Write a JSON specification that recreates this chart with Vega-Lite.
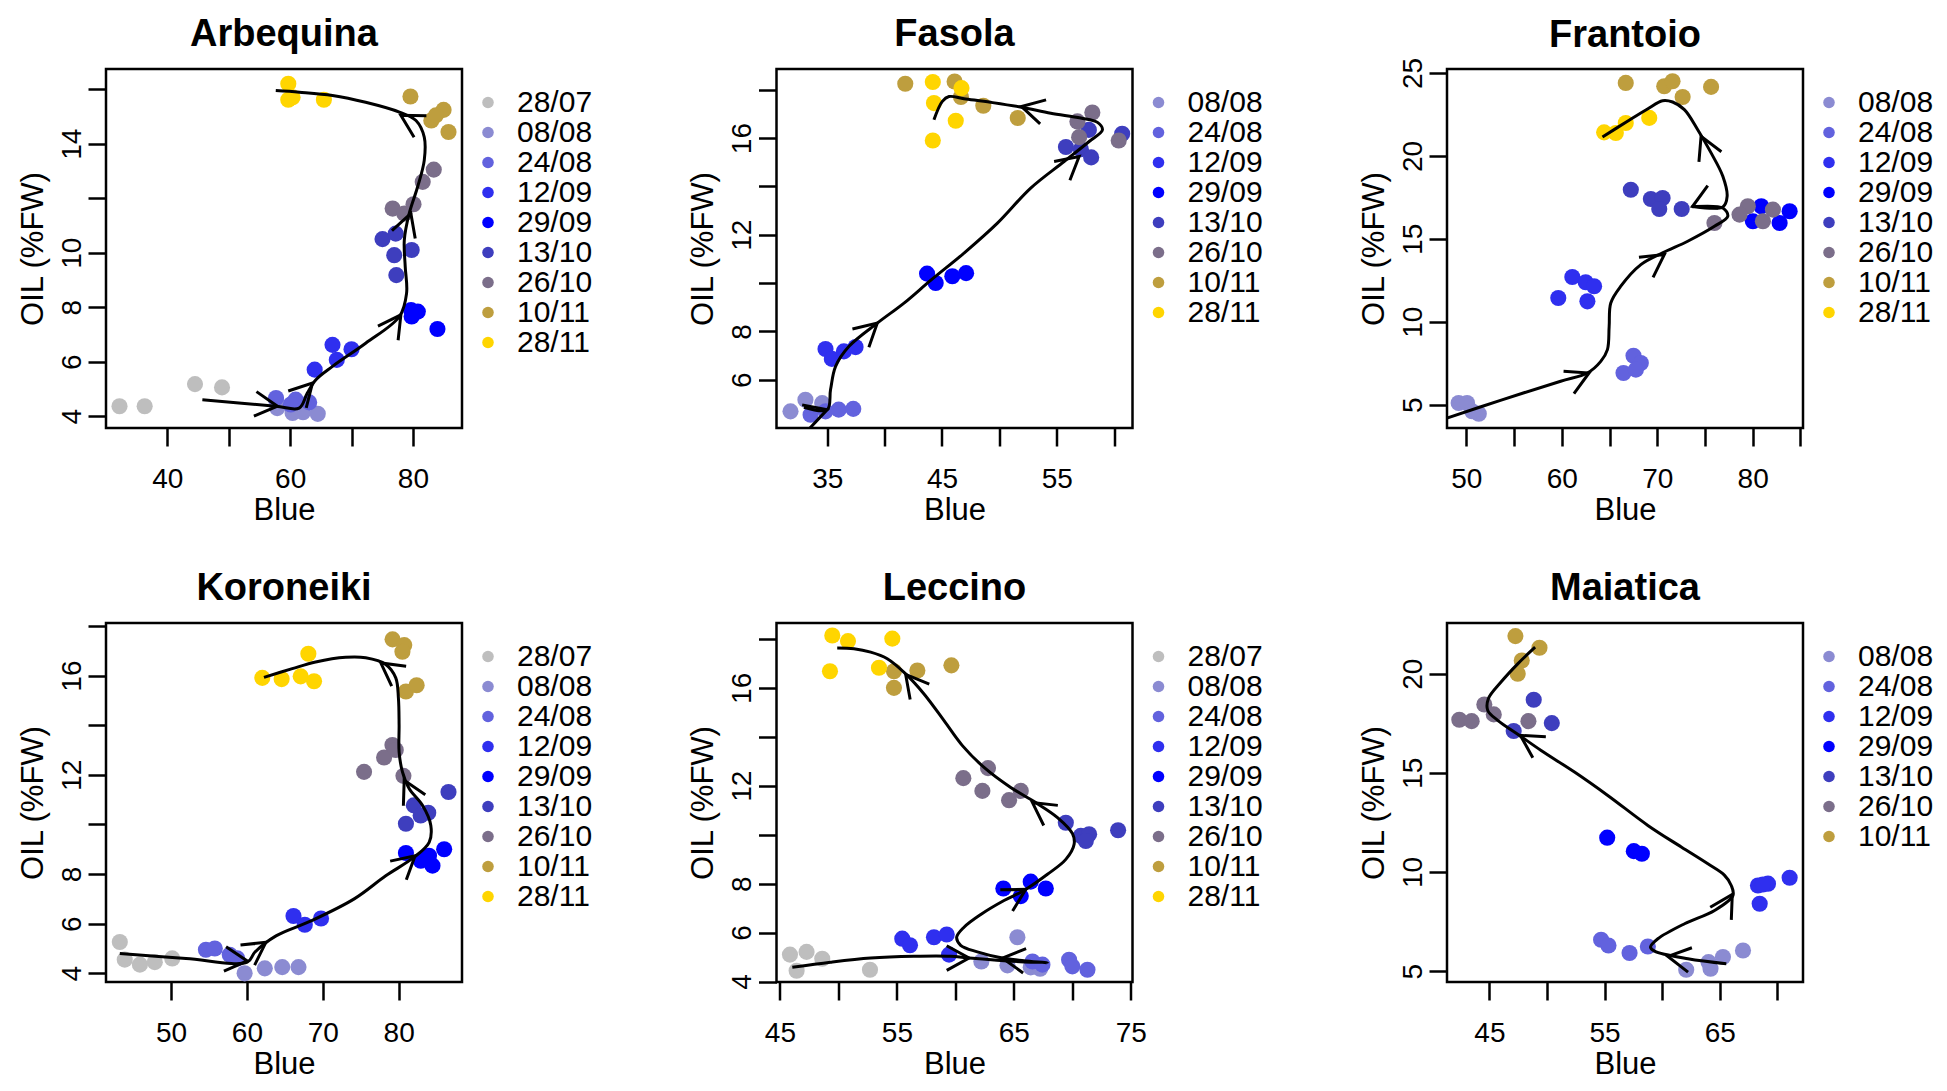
{
  "$schema": "https://vega.github.io/schema/vega-lite/v6.json",
  "padding": {"left": 15, "top": 14, "right": 10, "bottom": 10},
  "background": "white",
  "datasets": {
    "points": [
      {"cv": "Arbequina", "date": "28/07", "blue": 32.2, "oil": 4.37},
      {"cv": "Arbequina", "date": "28/07", "blue": 36.3, "oil": 4.37},
      {"cv": "Arbequina", "date": "28/07", "blue": 44.5, "oil": 5.18},
      {"cv": "Arbequina", "date": "28/07", "blue": 48.9, "oil": 5.06},
      {"cv": "Arbequina", "date": "08/08", "blue": 57.7, "oil": 4.59},
      {"cv": "Arbequina", "date": "08/08", "blue": 60.4, "oil": 4.12},
      {"cv": "Arbequina", "date": "08/08", "blue": 62.1, "oil": 4.15},
      {"cv": "Arbequina", "date": "08/08", "blue": 64.5, "oil": 4.09},
      {"cv": "Arbequina", "date": "08/08", "blue": 57.9, "oil": 4.3},
      {"cv": "Arbequina", "date": "24/08", "blue": 57.7, "oil": 4.67},
      {"cv": "Arbequina", "date": "24/08", "blue": 60.9, "oil": 4.61},
      {"cv": "Arbequina", "date": "24/08", "blue": 63.1, "oil": 4.51},
      {"cv": "Arbequina", "date": "24/08", "blue": 60.1, "oil": 4.43},
      {"cv": "Arbequina", "date": "12/09", "blue": 64.0, "oil": 5.71},
      {"cv": "Arbequina", "date": "12/09", "blue": 66.9, "oil": 6.62},
      {"cv": "Arbequina", "date": "12/09", "blue": 67.6, "oil": 6.07},
      {"cv": "Arbequina", "date": "12/09", "blue": 70.0, "oil": 6.46},
      {"cv": "Arbequina", "date": "29/09", "blue": 79.7, "oil": 7.9},
      {"cv": "Arbequina", "date": "29/09", "blue": 80.8, "oil": 7.84},
      {"cv": "Arbequina", "date": "29/09", "blue": 79.8, "oil": 7.66},
      {"cv": "Arbequina", "date": "29/09", "blue": 84.0, "oil": 7.2},
      {"cv": "Arbequina", "date": "13/10", "blue": 75.05, "oil": 10.5},
      {"cv": "Arbequina", "date": "13/10", "blue": 77.2, "oil": 10.7},
      {"cv": "Arbequina", "date": "13/10", "blue": 76.96, "oil": 9.91},
      {"cv": "Arbequina", "date": "13/10", "blue": 79.8, "oil": 10.1},
      {"cv": "Arbequina", "date": "13/10", "blue": 77.3, "oil": 9.18},
      {"cv": "Arbequina", "date": "26/10", "blue": 76.7, "oil": 11.62},
      {"cv": "Arbequina", "date": "26/10", "blue": 78.6, "oil": 11.44},
      {"cv": "Arbequina", "date": "26/10", "blue": 80.1, "oil": 11.78},
      {"cv": "Arbequina", "date": "26/10", "blue": 81.6, "oil": 12.6},
      {"cv": "Arbequina", "date": "26/10", "blue": 83.4, "oil": 13.05},
      {"cv": "Arbequina", "date": "10/11", "blue": 79.6, "oil": 15.73},
      {"cv": "Arbequina", "date": "10/11", "blue": 83.0, "oil": 14.85},
      {"cv": "Arbequina", "date": "10/11", "blue": 85.0, "oil": 15.24},
      {"cv": "Arbequina", "date": "10/11", "blue": 85.8, "oil": 14.43},
      {"cv": "Arbequina", "date": "10/11", "blue": 83.75, "oil": 15.04},
      {"cv": "Arbequina", "date": "28/11", "blue": 59.7, "oil": 16.2},
      {"cv": "Arbequina", "date": "28/11", "blue": 59.7, "oil": 15.61},
      {"cv": "Arbequina", "date": "28/11", "blue": 60.4, "oil": 15.7},
      {"cv": "Arbequina", "date": "28/11", "blue": 65.5, "oil": 15.61},

      {"cv": "Fasola", "date": "08/08", "blue": 31.8, "oil": 4.69},
      {"cv": "Fasola", "date": "08/08", "blue": 33.1, "oil": 5.17},
      {"cv": "Fasola", "date": "08/08", "blue": 34.56, "oil": 5.03},
      {"cv": "Fasola", "date": "24/08", "blue": 33.55, "oil": 4.55},
      {"cv": "Fasola", "date": "24/08", "blue": 34.85, "oil": 4.69},
      {"cv": "Fasola", "date": "24/08", "blue": 36.0, "oil": 4.76},
      {"cv": "Fasola", "date": "24/08", "blue": 37.27, "oil": 4.79},
      {"cv": "Fasola", "date": "12/09", "blue": 34.85, "oil": 7.27},
      {"cv": "Fasola", "date": "12/09", "blue": 35.4, "oil": 6.86},
      {"cv": "Fasola", "date": "12/09", "blue": 36.45, "oil": 7.17},
      {"cv": "Fasola", "date": "12/09", "blue": 37.47, "oil": 7.35},
      {"cv": "Fasola", "date": "29/09", "blue": 43.7, "oil": 10.39},
      {"cv": "Fasola", "date": "29/09", "blue": 44.45, "oil": 10.0},
      {"cv": "Fasola", "date": "29/09", "blue": 45.9, "oil": 10.28},
      {"cv": "Fasola", "date": "29/09", "blue": 47.1, "oil": 10.41},
      {"cv": "Fasola", "date": "13/10", "blue": 55.8, "oil": 15.63},
      {"cv": "Fasola", "date": "13/10", "blue": 57.1, "oil": 15.54},
      {"cv": "Fasola", "date": "13/10", "blue": 58.0, "oil": 15.2},
      {"cv": "Fasola", "date": "13/10", "blue": 57.8, "oil": 16.34},
      {"cv": "Fasola", "date": "13/10", "blue": 60.7, "oil": 16.18},
      {"cv": "Fasola", "date": "26/10", "blue": 56.8, "oil": 16.69},
      {"cv": "Fasola", "date": "26/10", "blue": 58.1, "oil": 17.06},
      {"cv": "Fasola", "date": "26/10", "blue": 56.95, "oil": 16.04},
      {"cv": "Fasola", "date": "26/10", "blue": 60.4, "oil": 15.9},
      {"cv": "Fasola", "date": "10/11", "blue": 41.8, "oil": 18.25},
      {"cv": "Fasola", "date": "10/11", "blue": 46.1, "oil": 18.34},
      {"cv": "Fasola", "date": "10/11", "blue": 46.65, "oil": 17.7},
      {"cv": "Fasola", "date": "10/11", "blue": 48.6, "oil": 17.34},
      {"cv": "Fasola", "date": "10/11", "blue": 51.6, "oil": 16.83},
      {"cv": "Fasola", "date": "28/11", "blue": 44.2, "oil": 18.32},
      {"cv": "Fasola", "date": "28/11", "blue": 46.7, "oil": 18.07},
      {"cv": "Fasola", "date": "28/11", "blue": 44.3, "oil": 17.45},
      {"cv": "Fasola", "date": "28/11", "blue": 46.2, "oil": 16.72},
      {"cv": "Fasola", "date": "28/11", "blue": 44.2, "oil": 15.9},

      {"cv": "Frantoio", "date": "08/08", "blue": 49.19, "oil": 5.1},
      {"cv": "Frantoio", "date": "08/08", "blue": 50.07, "oil": 5.1},
      {"cv": "Frantoio", "date": "08/08", "blue": 51.3, "oil": 4.45},
      {"cv": "Frantoio", "date": "08/08", "blue": 50.6, "oil": 4.6},
      {"cv": "Frantoio", "date": "24/08", "blue": 66.46, "oil": 6.91},
      {"cv": "Frantoio", "date": "24/08", "blue": 67.51, "oil": 7.95},
      {"cv": "Frantoio", "date": "24/08", "blue": 68.28, "oil": 7.51},
      {"cv": "Frantoio", "date": "24/08", "blue": 67.76, "oil": 7.11},
      {"cv": "Frantoio", "date": "12/09", "blue": 59.63, "oil": 11.43},
      {"cv": "Frantoio", "date": "12/09", "blue": 61.1, "oil": 12.7},
      {"cv": "Frantoio", "date": "12/09", "blue": 62.5, "oil": 12.38},
      {"cv": "Frantoio", "date": "12/09", "blue": 63.38, "oil": 12.14},
      {"cv": "Frantoio", "date": "12/09", "blue": 62.68, "oil": 11.23},
      {"cv": "Frantoio", "date": "29/09", "blue": 80.9, "oil": 16.96},
      {"cv": "Frantoio", "date": "29/09", "blue": 83.87, "oil": 16.66},
      {"cv": "Frantoio", "date": "29/09", "blue": 80.02, "oil": 16.06},
      {"cv": "Frantoio", "date": "29/09", "blue": 82.82, "oil": 15.95},
      {"cv": "Frantoio", "date": "13/10", "blue": 67.23, "oil": 17.96},
      {"cv": "Frantoio", "date": "13/10", "blue": 69.33, "oil": 17.4},
      {"cv": "Frantoio", "date": "13/10", "blue": 70.56, "oil": 17.46},
      {"cv": "Frantoio", "date": "13/10", "blue": 70.21, "oil": 16.8},
      {"cv": "Frantoio", "date": "13/10", "blue": 72.56, "oil": 16.8},
      {"cv": "Frantoio", "date": "26/10", "blue": 75.99, "oil": 15.95},
      {"cv": "Frantoio", "date": "26/10", "blue": 79.49, "oil": 16.96},
      {"cv": "Frantoio", "date": "26/10", "blue": 82.12, "oil": 16.76},
      {"cv": "Frantoio", "date": "26/10", "blue": 81.07, "oil": 16.06},
      {"cv": "Frantoio", "date": "26/10", "blue": 78.62, "oil": 16.46},
      {"cv": "Frantoio", "date": "10/11", "blue": 66.7, "oil": 24.4},
      {"cv": "Frantoio", "date": "10/11", "blue": 70.73, "oil": 24.2},
      {"cv": "Frantoio", "date": "10/11", "blue": 71.6, "oil": 24.5},
      {"cv": "Frantoio", "date": "10/11", "blue": 72.66, "oil": 23.55},
      {"cv": "Frantoio", "date": "10/11", "blue": 75.64, "oil": 24.16},
      {"cv": "Frantoio", "date": "28/11", "blue": 64.43, "oil": 21.42},
      {"cv": "Frantoio", "date": "28/11", "blue": 65.66, "oil": 21.38},
      {"cv": "Frantoio", "date": "28/11", "blue": 66.7, "oil": 21.98},
      {"cv": "Frantoio", "date": "28/11", "blue": 69.16, "oil": 22.29},

      {"cv": "Koroneiki", "date": "28/07", "blue": 43.25, "oil": 5.26},
      {"cv": "Koroneiki", "date": "28/07", "blue": 43.9, "oil": 4.55},
      {"cv": "Koroneiki", "date": "28/07", "blue": 45.9, "oil": 4.35},
      {"cv": "Koroneiki", "date": "28/07", "blue": 47.86, "oil": 4.45},
      {"cv": "Koroneiki", "date": "28/07", "blue": 50.16, "oil": 4.6},
      {"cv": "Koroneiki", "date": "08/08", "blue": 59.7, "oil": 4.0},
      {"cv": "Koroneiki", "date": "08/08", "blue": 62.36, "oil": 4.2},
      {"cv": "Koroneiki", "date": "08/08", "blue": 64.66, "oil": 4.25},
      {"cv": "Koroneiki", "date": "08/08", "blue": 66.8, "oil": 4.25},
      {"cv": "Koroneiki", "date": "24/08", "blue": 54.6, "oil": 4.95},
      {"cv": "Koroneiki", "date": "24/08", "blue": 55.77, "oil": 5.0},
      {"cv": "Koroneiki", "date": "24/08", "blue": 57.74, "oil": 4.75},
      {"cv": "Koroneiki", "date": "24/08", "blue": 58.73, "oil": 4.6},
      {"cv": "Koroneiki", "date": "12/09", "blue": 66.14, "oil": 6.31},
      {"cv": "Koroneiki", "date": "12/09", "blue": 67.63, "oil": 5.96},
      {"cv": "Koroneiki", "date": "12/09", "blue": 69.77, "oil": 6.21},
      {"cv": "Koroneiki", "date": "29/09", "blue": 80.96, "oil": 8.85},
      {"cv": "Koroneiki", "date": "29/09", "blue": 82.92, "oil": 8.54},
      {"cv": "Koroneiki", "date": "29/09", "blue": 84.46, "oil": 8.34},
      {"cv": "Koroneiki", "date": "29/09", "blue": 84.0, "oil": 8.74},
      {"cv": "Koroneiki", "date": "29/09", "blue": 86.0, "oil": 9.0},
      {"cv": "Koroneiki", "date": "13/10", "blue": 80.96, "oil": 10.03},
      {"cv": "Koroneiki", "date": "13/10", "blue": 82.0, "oil": 10.77},
      {"cv": "Koroneiki", "date": "13/10", "blue": 83.9, "oil": 10.47},
      {"cv": "Koroneiki", "date": "13/10", "blue": 86.57, "oil": 11.31},
      {"cv": "Koroneiki", "date": "13/10", "blue": 82.9, "oil": 10.36},
      {"cv": "Koroneiki", "date": "26/10", "blue": 75.44, "oil": 12.12},
      {"cv": "Koroneiki", "date": "26/10", "blue": 78.08, "oil": 12.7},
      {"cv": "Koroneiki", "date": "26/10", "blue": 79.18, "oil": 13.2},
      {"cv": "Koroneiki", "date": "26/10", "blue": 79.62, "oil": 13.0},
      {"cv": "Koroneiki", "date": "26/10", "blue": 80.63, "oil": 11.96},
      {"cv": "Koroneiki", "date": "10/11", "blue": 79.2, "oil": 17.46},
      {"cv": "Koroneiki", "date": "10/11", "blue": 80.74, "oil": 17.23},
      {"cv": "Koroneiki", "date": "10/11", "blue": 80.5, "oil": 16.96},
      {"cv": "Koroneiki", "date": "10/11", "blue": 80.96, "oil": 15.36},
      {"cv": "Koroneiki", "date": "10/11", "blue": 82.37, "oil": 15.61},
      {"cv": "Koroneiki", "date": "28/11", "blue": 62.03, "oil": 15.91},
      {"cv": "Koroneiki", "date": "28/11", "blue": 64.58, "oil": 15.86},
      {"cv": "Koroneiki", "date": "28/11", "blue": 67.09, "oil": 15.97},
      {"cv": "Koroneiki", "date": "28/11", "blue": 68.85, "oil": 15.77},
      {"cv": "Koroneiki", "date": "28/11", "blue": 68.1, "oil": 16.88},

      {"cv": "Leccino", "date": "28/07", "blue": 45.86, "oil": 5.1},
      {"cv": "Leccino", "date": "28/07", "blue": 47.28, "oil": 5.21},
      {"cv": "Leccino", "date": "28/07", "blue": 48.62, "oil": 4.93},
      {"cv": "Leccino", "date": "28/07", "blue": 46.43, "oil": 4.44},
      {"cv": "Leccino", "date": "28/07", "blue": 52.7, "oil": 4.48},
      {"cv": "Leccino", "date": "08/08", "blue": 62.22, "oil": 4.82},
      {"cv": "Leccino", "date": "08/08", "blue": 64.45, "oil": 4.66},
      {"cv": "Leccino", "date": "08/08", "blue": 65.3, "oil": 5.81},
      {"cv": "Leccino", "date": "08/08", "blue": 66.44, "oil": 4.58},
      {"cv": "Leccino", "date": "08/08", "blue": 67.24, "oil": 4.52},
      {"cv": "Leccino", "date": "24/08", "blue": 66.59, "oil": 4.82},
      {"cv": "Leccino", "date": "24/08", "blue": 69.72, "oil": 4.89},
      {"cv": "Leccino", "date": "24/08", "blue": 70.0, "oil": 4.62},
      {"cv": "Leccino", "date": "24/08", "blue": 71.29, "oil": 4.48},
      {"cv": "Leccino", "date": "24/08", "blue": 67.44, "oil": 4.69},
      {"cv": "Leccino", "date": "12/09", "blue": 55.46, "oil": 5.75},
      {"cv": "Leccino", "date": "12/09", "blue": 56.12, "oil": 5.48},
      {"cv": "Leccino", "date": "12/09", "blue": 58.17, "oil": 5.81},
      {"cv": "Leccino", "date": "12/09", "blue": 59.26, "oil": 5.92},
      {"cv": "Leccino", "date": "12/09", "blue": 59.46, "oil": 5.1},
      {"cv": "Leccino", "date": "29/09", "blue": 64.1, "oil": 7.8},
      {"cv": "Leccino", "date": "29/09", "blue": 66.44, "oil": 8.08},
      {"cv": "Leccino", "date": "29/09", "blue": 67.73, "oil": 7.8},
      {"cv": "Leccino", "date": "29/09", "blue": 65.59, "oil": 7.49},
      {"cv": "Leccino", "date": "13/10", "blue": 69.44, "oil": 10.49},
      {"cv": "Leccino", "date": "13/10", "blue": 70.72, "oil": 9.95},
      {"cv": "Leccino", "date": "13/10", "blue": 71.43, "oil": 10.02},
      {"cv": "Leccino", "date": "13/10", "blue": 73.91, "oil": 10.18},
      {"cv": "Leccino", "date": "13/10", "blue": 71.15, "oil": 9.74},
      {"cv": "Leccino", "date": "26/10", "blue": 60.68, "oil": 12.31},
      {"cv": "Leccino", "date": "26/10", "blue": 62.31, "oil": 11.79},
      {"cv": "Leccino", "date": "26/10", "blue": 62.79, "oil": 12.72},
      {"cv": "Leccino", "date": "26/10", "blue": 64.59, "oil": 11.41},
      {"cv": "Leccino", "date": "26/10", "blue": 65.59, "oil": 11.79},
      {"cv": "Leccino", "date": "10/11", "blue": 54.75, "oil": 16.68},
      {"cv": "Leccino", "date": "10/11", "blue": 54.75, "oil": 16.0},
      {"cv": "Leccino", "date": "10/11", "blue": 56.75, "oil": 16.71},
      {"cv": "Leccino", "date": "10/11", "blue": 59.66, "oil": 16.92},
      {"cv": "Leccino", "date": "28/11", "blue": 49.48, "oil": 18.14},
      {"cv": "Leccino", "date": "28/11", "blue": 50.82, "oil": 17.91},
      {"cv": "Leccino", "date": "28/11", "blue": 54.61, "oil": 18.01},
      {"cv": "Leccino", "date": "28/11", "blue": 49.28, "oil": 16.68},
      {"cv": "Leccino", "date": "28/11", "blue": 53.47, "oil": 16.82},

      {"cv": "Maiatica", "date": "08/08", "blue": 62.09, "oil": 5.07},
      {"cv": "Maiatica", "date": "08/08", "blue": 64.03, "oil": 5.45},
      {"cv": "Maiatica", "date": "08/08", "blue": 65.28, "oil": 5.71},
      {"cv": "Maiatica", "date": "08/08", "blue": 67.02, "oil": 6.04},
      {"cv": "Maiatica", "date": "08/08", "blue": 64.2, "oil": 5.12},
      {"cv": "Maiatica", "date": "24/08", "blue": 54.7, "oil": 6.58},
      {"cv": "Maiatica", "date": "24/08", "blue": 55.34, "oil": 6.29},
      {"cv": "Maiatica", "date": "24/08", "blue": 57.17, "oil": 5.91},
      {"cv": "Maiatica", "date": "24/08", "blue": 58.76, "oil": 6.24},
      {"cv": "Maiatica", "date": "12/09", "blue": 68.32, "oil": 9.32},
      {"cv": "Maiatica", "date": "12/09", "blue": 69.19, "oil": 9.41},
      {"cv": "Maiatica", "date": "12/09", "blue": 68.47, "oil": 8.4},
      {"cv": "Maiatica", "date": "12/09", "blue": 71.07, "oil": 9.71},
      {"cv": "Maiatica", "date": "12/09", "blue": 68.75, "oil": 9.37},
      {"cv": "Maiatica", "date": "29/09", "blue": 55.23, "oil": 11.73},
      {"cv": "Maiatica", "date": "29/09", "blue": 57.54, "oil": 11.05},
      {"cv": "Maiatica", "date": "29/09", "blue": 58.24, "oil": 10.92},
      {"cv": "Maiatica", "date": "13/10", "blue": 48.85, "oil": 18.69},
      {"cv": "Maiatica", "date": "13/10", "blue": 50.42, "oil": 17.51},
      {"cv": "Maiatica", "date": "13/10", "blue": 47.11, "oil": 17.11},
      {"cv": "Maiatica", "date": "26/10", "blue": 42.39, "oil": 17.68},
      {"cv": "Maiatica", "date": "26/10", "blue": 43.46, "oil": 17.61},
      {"cv": "Maiatica", "date": "26/10", "blue": 44.56, "oil": 18.45},
      {"cv": "Maiatica", "date": "26/10", "blue": 45.38, "oil": 17.95},
      {"cv": "Maiatica", "date": "26/10", "blue": 48.39, "oil": 17.61},
      {"cv": "Maiatica", "date": "10/11", "blue": 47.26, "oil": 21.9},
      {"cv": "Maiatica", "date": "10/11", "blue": 49.35, "oil": 21.31},
      {"cv": "Maiatica", "date": "10/11", "blue": 47.81, "oil": 20.67},
      {"cv": "Maiatica", "date": "10/11", "blue": 47.46, "oil": 20.0}
    ],
    "path": [
      {"cv": "Arbequina", "step": 1, "blue": 45.7, "oil": 4.61},
      {"cv": "Arbequina", "step": 2, "blue": 57.66, "oil": 4.37},
      {"cv": "Arbequina", "step": 3, "blue": 61.47, "oil": 4.3},
      {"cv": "Arbequina", "step": 4, "blue": 62.8, "oil": 4.85},
      {"cv": "Arbequina", "step": 5, "blue": 64.2, "oil": 5.34},
      {"cv": "Arbequina", "step": 6, "blue": 66.9, "oil": 5.83},
      {"cv": "Arbequina", "step": 7, "blue": 72.3, "oil": 6.68},
      {"cv": "Arbequina", "step": 8, "blue": 77.8, "oil": 7.66},
      {"cv": "Arbequina", "step": 9, "blue": 78.97, "oil": 8.51},
      {"cv": "Arbequina", "step": 10, "blue": 78.75, "oil": 9.49},
      {"cv": "Arbequina", "step": 11, "blue": 78.6, "oil": 10.46},
      {"cv": "Arbequina", "step": 12, "blue": 79.4, "oil": 11.44},
      {"cv": "Arbequina", "step": 13, "blue": 80.76, "oil": 12.41},
      {"cv": "Arbequina", "step": 14, "blue": 81.85, "oil": 13.39},
      {"cv": "Arbequina", "step": 15, "blue": 81.85, "oil": 14.24},
      {"cv": "Arbequina", "step": 16, "blue": 80.5, "oil": 14.85},
      {"cv": "Arbequina", "step": 17, "blue": 77.8, "oil": 15.16},
      {"cv": "Arbequina", "step": 18, "blue": 72.3, "oil": 15.52},
      {"cv": "Arbequina", "step": 19, "blue": 66.9, "oil": 15.77},
      {"cv": "Arbequina", "step": 20, "blue": 61.5, "oil": 15.89},
      {"cv": "Arbequina", "step": 21, "blue": 57.66, "oil": 15.95},

      {"cv": "Fasola", "step": 1, "blue": 32.97, "oil": 4.86},
      {"cv": "Fasola", "step": 2, "blue": 35.0, "oil": 4.76},
      {"cv": "Fasola", "step": 3, "blue": 35.29, "oil": 5.59},
      {"cv": "Fasola", "step": 4, "blue": 35.73, "oil": 6.55},
      {"cv": "Fasola", "step": 5, "blue": 36.9, "oil": 7.38},
      {"cv": "Fasola", "step": 6, "blue": 39.36, "oil": 8.34},
      {"cv": "Fasola", "step": 7, "blue": 41.69, "oil": 9.17},
      {"cv": "Fasola", "step": 8, "blue": 44.01, "oil": 10.11},
      {"cv": "Fasola", "step": 9, "blue": 46.92, "oil": 11.24},
      {"cv": "Fasola", "step": 10, "blue": 49.83, "oil": 12.48},
      {"cv": "Fasola", "step": 11, "blue": 52.73, "oil": 13.93},
      {"cv": "Fasola", "step": 12, "blue": 55.64, "oil": 15.03},
      {"cv": "Fasola", "step": 13, "blue": 57.82, "oil": 15.86},
      {"cv": "Fasola", "step": 14, "blue": 58.98, "oil": 16.34},
      {"cv": "Fasola", "step": 15, "blue": 58.55, "oil": 16.65},
      {"cv": "Fasola", "step": 16, "blue": 57.09, "oil": 16.83},
      {"cv": "Fasola", "step": 17, "blue": 54.48, "oil": 17.03},
      {"cv": "Fasola", "step": 18, "blue": 51.92, "oil": 17.28},
      {"cv": "Fasola", "step": 19, "blue": 49.24, "oil": 17.48},
      {"cv": "Fasola", "step": 20, "blue": 46.92, "oil": 17.63},
      {"cv": "Fasola", "step": 21, "blue": 45.61, "oil": 17.72},
      {"cv": "Fasola", "step": 22, "blue": 45.03, "oil": 17.52},
      {"cv": "Fasola", "step": 23, "blue": 44.3, "oil": 16.76},

      {"cv": "Frantoio", "step": 1, "blue": 48.04, "oil": 4.2},
      {"cv": "Frantoio", "step": 2, "blue": 53.57, "oil": 5.26},
      {"cv": "Frantoio", "step": 3, "blue": 59.88, "oil": 6.41},
      {"cv": "Frantoio", "step": 4, "blue": 62.68, "oil": 6.91},
      {"cv": "Frantoio", "step": 5, "blue": 64.08, "oil": 7.61},
      {"cv": "Frantoio", "step": 6, "blue": 64.78, "oil": 8.32},
      {"cv": "Frantoio", "step": 7, "blue": 64.96, "oil": 9.72},
      {"cv": "Frantoio", "step": 8, "blue": 65.13, "oil": 11.13},
      {"cv": "Frantoio", "step": 9, "blue": 66.18, "oil": 12.14},
      {"cv": "Frantoio", "step": 10, "blue": 68.28, "oil": 13.44},
      {"cv": "Frantoio", "step": 11, "blue": 70.56, "oil": 14.15},
      {"cv": "Frantoio", "step": 12, "blue": 73.19, "oil": 14.85},
      {"cv": "Frantoio", "step": 13, "blue": 75.99, "oil": 15.75},
      {"cv": "Frantoio", "step": 14, "blue": 77.39, "oil": 16.36},
      {"cv": "Frantoio", "step": 15, "blue": 76.87, "oil": 16.86},
      {"cv": "Frantoio", "step": 16, "blue": 73.71, "oil": 16.94},
      {"cv": "Frantoio", "step": 17, "blue": 76.87, "oil": 16.92},
      {"cv": "Frantoio", "step": 18, "blue": 77.32, "oil": 17.56},
      {"cv": "Frantoio", "step": 19, "blue": 76.87, "oil": 18.77},
      {"cv": "Frantoio", "step": 20, "blue": 75.64, "oil": 20.18},
      {"cv": "Frantoio", "step": 21, "blue": 74.24, "oil": 21.58},
      {"cv": "Frantoio", "step": 22, "blue": 72.84, "oil": 22.79},
      {"cv": "Frantoio", "step": 23, "blue": 71.61, "oil": 23.25},
      {"cv": "Frantoio", "step": 24, "blue": 70.56, "oil": 23.33},
      {"cv": "Frantoio", "step": 25, "blue": 68.98, "oil": 22.83},
      {"cv": "Frantoio", "step": 26, "blue": 66.88, "oil": 22.09},
      {"cv": "Frantoio", "step": 27, "blue": 64.26, "oil": 21.14},

      {"cv": "Koroneiki", "step": 1, "blue": 43.25, "oil": 4.8},
      {"cv": "Koroneiki", "step": 2, "blue": 51.98, "oil": 4.6},
      {"cv": "Koroneiki", "step": 3, "blue": 60.05, "oil": 4.45},
      {"cv": "Koroneiki", "step": 4, "blue": 61.04, "oil": 4.85},
      {"cv": "Koroneiki", "step": 5, "blue": 63.84, "oil": 5.51},
      {"cv": "Koroneiki", "step": 6, "blue": 68.45, "oil": 6.11},
      {"cv": "Koroneiki", "step": 7, "blue": 74.2, "oil": 7.01},
      {"cv": "Koroneiki", "step": 8, "blue": 78.3, "oil": 7.93},
      {"cv": "Koroneiki", "step": 9, "blue": 82.04, "oil": 8.68},
      {"cv": "Koroneiki", "step": 10, "blue": 84.02, "oil": 9.28},
      {"cv": "Koroneiki", "step": 11, "blue": 84.24, "oil": 9.96},
      {"cv": "Koroneiki", "step": 12, "blue": 83.14, "oil": 10.77},
      {"cv": "Koroneiki", "step": 13, "blue": 81.38, "oil": 11.45},
      {"cv": "Koroneiki", "step": 14, "blue": 80.5, "oil": 12.12},
      {"cv": "Koroneiki", "step": 15, "blue": 80.06, "oil": 12.93},
      {"cv": "Koroneiki", "step": 16, "blue": 80.06, "oil": 14.01},
      {"cv": "Koroneiki", "step": 17, "blue": 79.97, "oil": 15.09},
      {"cv": "Koroneiki", "step": 18, "blue": 79.62, "oil": 15.91},
      {"cv": "Koroneiki", "step": 19, "blue": 78.3, "oil": 16.45},
      {"cv": "Koroneiki", "step": 20, "blue": 75.66, "oil": 16.72},
      {"cv": "Koroneiki", "step": 21, "blue": 73.02, "oil": 16.74},
      {"cv": "Koroneiki", "step": 22, "blue": 69.06, "oil": 16.55},
      {"cv": "Koroneiki", "step": 23, "blue": 65.98, "oil": 16.28},
      {"cv": "Koroneiki", "step": 24, "blue": 62.25, "oil": 15.93},

      {"cv": "Leccino", "step": 1, "blue": 46.06, "oil": 4.58},
      {"cv": "Leccino", "step": 2, "blue": 49.33, "oil": 4.79},
      {"cv": "Leccino", "step": 3, "blue": 52.76, "oil": 4.96},
      {"cv": "Leccino", "step": 4, "blue": 56.46, "oil": 5.03},
      {"cv": "Leccino", "step": 5, "blue": 59.6, "oil": 5.03},
      {"cv": "Leccino", "step": 6, "blue": 61.17, "oil": 4.96},
      {"cv": "Leccino", "step": 7, "blue": 64.16, "oil": 4.85},
      {"cv": "Leccino", "step": 8, "blue": 67.87, "oil": 4.76},
      {"cv": "Leccino", "step": 9, "blue": 65.87, "oil": 4.85},
      {"cv": "Leccino", "step": 10, "blue": 64.02, "oil": 4.96},
      {"cv": "Leccino", "step": 11, "blue": 61.88, "oil": 5.21},
      {"cv": "Leccino", "step": 12, "blue": 60.45, "oil": 5.48},
      {"cv": "Leccino", "step": 13, "blue": 60.11, "oil": 5.81},
      {"cv": "Leccino", "step": 14, "blue": 60.74, "oil": 6.22},
      {"cv": "Leccino", "step": 15, "blue": 62.17, "oil": 6.74},
      {"cv": "Leccino", "step": 16, "blue": 64.16, "oil": 7.31},
      {"cv": "Leccino", "step": 17, "blue": 65.87, "oil": 7.72},
      {"cv": "Leccino", "step": 18, "blue": 67.87, "oil": 8.38},
      {"cv": "Leccino", "step": 19, "blue": 69.44, "oil": 8.99},
      {"cv": "Leccino", "step": 20, "blue": 70.15, "oil": 9.61},
      {"cv": "Leccino", "step": 21, "blue": 70.01, "oil": 10.04},
      {"cv": "Leccino", "step": 22, "blue": 68.73, "oil": 10.7},
      {"cv": "Leccino", "step": 23, "blue": 66.87, "oil": 11.31},
      {"cv": "Leccino", "step": 24, "blue": 64.73, "oil": 11.93},
      {"cv": "Leccino", "step": 25, "blue": 62.45, "oil": 12.75},
      {"cv": "Leccino", "step": 26, "blue": 60.6, "oil": 13.64},
      {"cv": "Leccino", "step": 27, "blue": 59.03, "oil": 14.66},
      {"cv": "Leccino", "step": 28, "blue": 57.32, "oil": 15.75},
      {"cv": "Leccino", "step": 29, "blue": 55.75, "oil": 16.57},
      {"cv": "Leccino", "step": 30, "blue": 54.18, "oil": 17.19},
      {"cv": "Leccino", "step": 31, "blue": 52.76, "oil": 17.46},
      {"cv": "Leccino", "step": 32, "blue": 51.33, "oil": 17.6},
      {"cv": "Leccino", "step": 33, "blue": 49.9, "oil": 17.63},

      {"cv": "Maiatica", "step": 1, "blue": 65.57, "oil": 5.37},
      {"cv": "Maiatica", "step": 2, "blue": 62.24, "oil": 5.62},
      {"cv": "Maiatica", "step": 3, "blue": 59.34, "oil": 6.01},
      {"cv": "Maiatica", "step": 4, "blue": 58.99, "oil": 6.21},
      {"cv": "Maiatica", "step": 5, "blue": 59.63, "oil": 6.63},
      {"cv": "Maiatica", "step": 6, "blue": 61.95, "oil": 7.39},
      {"cv": "Maiatica", "step": 7, "blue": 64.55, "oil": 8.06},
      {"cv": "Maiatica", "step": 8, "blue": 66.15, "oil": 8.82},
      {"cv": "Maiatica", "step": 9, "blue": 66.0, "oil": 9.32},
      {"cv": "Maiatica", "step": 10, "blue": 65.42, "oil": 9.83},
      {"cv": "Maiatica", "step": 11, "blue": 63.97, "oil": 10.41},
      {"cv": "Maiatica", "step": 12, "blue": 61.66, "oil": 11.26},
      {"cv": "Maiatica", "step": 13, "blue": 58.76, "oil": 12.35},
      {"cv": "Maiatica", "step": 14, "blue": 55.28, "oil": 13.86},
      {"cv": "Maiatica", "step": 15, "blue": 52.39, "oil": 15.04},
      {"cv": "Maiatica", "step": 16, "blue": 49.49, "oil": 16.13},
      {"cv": "Maiatica", "step": 17, "blue": 47.61, "oil": 16.89},
      {"cv": "Maiatica", "step": 18, "blue": 45.72, "oil": 17.65},
      {"cv": "Maiatica", "step": 19, "blue": 44.86, "oil": 18.15},
      {"cv": "Maiatica", "step": 20, "blue": 44.91, "oil": 18.74},
      {"cv": "Maiatica", "step": 21, "blue": 46.01, "oil": 19.58},
      {"cv": "Maiatica", "step": 22, "blue": 47.46, "oil": 20.5},
      {"cv": "Maiatica", "step": 23, "blue": 48.97, "oil": 21.34}
    ],
    "arrows": [
      {"cv": "Arbequina", "blue": 57.93, "oil": 4.37, "heading": 6},
      {"cv": "Arbequina", "blue": 63.64, "oil": 5.22, "heading": -47},
      {"cv": "Arbequina", "blue": 78.04, "oil": 7.72, "heading": -55},
      {"cv": "Arbequina", "blue": 79.67, "oil": 11.44, "heading": -71},
      {"cv": "Arbequina", "blue": 78.04, "oil": 15.04, "heading": -150},
      {"cv": "Fasola", "blue": 35.0, "oil": 4.76, "heading": -18},
      {"cv": "Fasola", "blue": 39.36, "oil": 8.34, "heading": -42},
      {"cv": "Fasola", "blue": 56.95, "oil": 15.24, "heading": -40},
      {"cv": "Fasola", "blue": 51.92, "oil": 17.31, "heading": -166},
      {"cv": "Frantoio", "blue": 62.85, "oil": 6.91, "heading": -25},
      {"cv": "Frantoio", "blue": 70.74, "oil": 14.05, "heading": -35},
      {"cv": "Frantoio", "blue": 73.71, "oil": 16.96, "heading": 155},
      {"cv": "Frantoio", "blue": 74.59, "oil": 21.18, "heading": -114},
      {"cv": "Koroneiki", "blue": 60.05, "oil": 4.5, "heading": 5},
      {"cv": "Koroneiki", "blue": 62.5, "oil": 5.25, "heading": -35},
      {"cv": "Koroneiki", "blue": 82.17, "oil": 8.74, "heading": -41},
      {"cv": "Koroneiki", "blue": 80.73, "oil": 11.78, "heading": -117},
      {"cv": "Koroneiki", "blue": 77.65, "oil": 16.51, "heading": -144},
      {"cv": "Leccino", "blue": 61.17, "oil": 4.96, "heading": 0},
      {"cv": "Leccino", "blue": 64.02, "oil": 4.96, "heading": -173},
      {"cv": "Leccino", "blue": 66.02, "oil": 7.77, "heading": -30},
      {"cv": "Leccino", "blue": 66.59, "oil": 11.31, "heading": -145},
      {"cv": "Leccino", "blue": 55.75, "oil": 16.55, "heading": -129},
      {"cv": "Maiatica", "blue": 60.5, "oil": 5.74, "heading": -171},
      {"cv": "Maiatica", "blue": 66.09, "oil": 8.87, "heading": -59},
      {"cv": "Maiatica", "blue": 47.69, "oil": 16.89, "heading": -148}
    ]
  },
  "columns": 3,
  "spacing": {"row": 195, "column": 314.5},
  "bounds": "flush",
  "resolve": {"scale": {"x": "independent", "y": "independent", "color": "independent"}},
  "concat": [
    {
      "title": "Arbequina",
      "width": 356,
      "height": 359,
      "encoding": {
        "x": {"field": "blue", "type": "quantitative", "title": "Blue",
          "scale": {"domain": [30.0, 88.0], "nice": false, "zero": false},
          "axis": {"values": [40, 50, 60, 70, 80], "labelExpr": "indexof([40, 60, 80], datum.value) >= 0 ? datum.label : ''"}},
        "y": {"field": "oil", "type": "quantitative", "title": "OIL (%FW)",
          "scale": {"domain": [3.57, 16.74], "nice": false, "zero": false},
          "axis": {"values": [4, 6, 8, 10, 12, 14, 16], "labelExpr": "indexof([4, 6, 8, 10, 14], datum.value) >= 0 ? datum.label : ''"}}
      },
      "layer": [
        {"data": {"name": "points"}, "transform": [{"filter": "datum.cv == 'Arbequina'"}],
          "mark": {"type": "circle", "size": 260, "opacity": 1, "clip": true},
          "encoding": {"color": {"field": "date", "type": "nominal",
            "scale": {"domain": ["28/07", "08/08", "24/08", "12/09", "29/09", "13/10", "26/10", "10/11", "28/11"],
              "range": ["#BEBEBE", "#8B8BD2", "#6262DE", "#2F2FEF", "#0000FF", "#3E3EBE", "#7B6E8A", "#BE9E3E", "#FFD500"]},
            "legend": {"title": null, "orient": "none", "legendX": 367, "legendY": 18.5}}}},
        {"data": {"name": "path"}, "transform": [{"filter": "datum.cv == 'Arbequina'"}],
          "mark": {"type": "line", "color": "black", "strokeWidth": 3, "interpolate": "catmull-rom", "clip": true},
          "encoding": {"order": {"field": "step", "type": "quantitative"}}},
        {"data": {"name": "arrows"}, "transform": [{"filter": "datum.cv == 'Arbequina'"}],
          "mark": {"type": "point", "shape": "M-1,-0.55L0,0L-1,0.55", "filled": false, "color": "black", "strokeWidth": 3, "size": 2000, "opacity": 1, "clip": true},
          "encoding": {"angle": {"field": "heading", "type": "quantitative", "scale": null}}}
      ]
    },
    {
      "title": "Fasola",
      "width": 356,
      "height": 359,
      "encoding": {
        "x": {"field": "blue", "type": "quantitative", "title": "Blue",
          "scale": {"domain": [30.58, 61.6], "nice": false, "zero": false},
          "axis": {"values": [35, 40, 45, 50, 55, 60], "labelExpr": "indexof([35, 45, 55], datum.value) >= 0 ? datum.label : ''"}},
        "y": {"field": "oil", "type": "quantitative", "title": "OIL (%FW)",
          "scale": {"domain": [4.0, 18.86], "nice": false, "zero": false},
          "axis": {"values": [6, 8, 10, 12, 14, 16, 18], "labelExpr": "indexof([6, 8, 12, 16], datum.value) >= 0 ? datum.label : ''"}}
      },
      "layer": [
        {"data": {"name": "points"}, "transform": [{"filter": "datum.cv == 'Fasola'"}],
          "mark": {"type": "circle", "size": 260, "opacity": 1, "clip": true},
          "encoding": {"color": {"field": "date", "type": "nominal",
            "scale": {"domain": ["08/08", "24/08", "12/09", "29/09", "13/10", "26/10", "10/11", "28/11"],
              "range": ["#8B8BD2", "#6262DE", "#2F2FEF", "#0000FF", "#3E3EBE", "#7B6E8A", "#BE9E3E", "#FFD500"]},
            "legend": {"title": null, "orient": "none", "legendX": 367, "legendY": 18.5}}}},
        {"data": {"name": "path"}, "transform": [{"filter": "datum.cv == 'Fasola'"}],
          "mark": {"type": "line", "color": "black", "strokeWidth": 3, "interpolate": "catmull-rom", "clip": true},
          "encoding": {"order": {"field": "step", "type": "quantitative"}}},
        {"data": {"name": "arrows"}, "transform": [{"filter": "datum.cv == 'Fasola'"}],
          "mark": {"type": "point", "shape": "M-1,-0.55L0,0L-1,0.55", "filled": false, "color": "black", "strokeWidth": 3, "size": 2000, "opacity": 1, "clip": true},
          "encoding": {"angle": {"field": "heading", "type": "quantitative", "scale": null}}}
      ]
    },
    {
      "title": {"text": "Frantoio", "offset": 2.5},
      "width": 356,
      "height": 359,
      "encoding": {
        "x": {"field": "blue", "type": "quantitative", "title": "Blue",
          "scale": {"domain": [47.97, 85.27], "nice": false, "zero": false},
          "axis": {"values": [50, 55, 60, 65, 70, 75, 80, 85], "labelExpr": "indexof([50, 60, 70, 80], datum.value) >= 0 ? datum.label : ''"}},
        "y": {"field": "oil", "type": "quantitative", "title": "OIL (%FW)",
          "scale": {"domain": [3.59, 25.24], "nice": false, "zero": false},
          "axis": {"values": [5, 10, 15, 20, 25]}}
      },
      "layer": [
        {"data": {"name": "points"}, "transform": [{"filter": "datum.cv == 'Frantoio'"}],
          "mark": {"type": "circle", "size": 260, "opacity": 1, "clip": true},
          "encoding": {"color": {"field": "date", "type": "nominal",
            "scale": {"domain": ["08/08", "24/08", "12/09", "29/09", "13/10", "26/10", "10/11", "28/11"],
              "range": ["#8B8BD2", "#6262DE", "#2F2FEF", "#0000FF", "#3E3EBE", "#7B6E8A", "#BE9E3E", "#FFD500"]},
            "legend": {"title": null, "orient": "none", "legendX": 367, "legendY": 18.5}}}},
        {"data": {"name": "path"}, "transform": [{"filter": "datum.cv == 'Frantoio'"}],
          "mark": {"type": "line", "color": "black", "strokeWidth": 3, "interpolate": "catmull-rom", "clip": true},
          "encoding": {"order": {"field": "step", "type": "quantitative"}}},
        {"data": {"name": "arrows"}, "transform": [{"filter": "datum.cv == 'Frantoio'"}],
          "mark": {"type": "point", "shape": "M-1,-0.55L0,0L-1,0.55", "filled": false, "color": "black", "strokeWidth": 3, "size": 2000, "opacity": 1, "clip": true},
          "encoding": {"angle": {"field": "heading", "type": "quantitative", "scale": null}}}
      ]
    },
    {
      "title": "Koroneiki",
      "width": 356,
      "height": 359,
      "encoding": {
        "x": {"field": "blue", "type": "quantitative", "title": "Blue",
          "scale": {"domain": [41.43, 88.35], "nice": false, "zero": false},
          "axis": {"values": [50, 60, 70, 80]}},
        "y": {"field": "oil", "type": "quantitative", "title": "OIL (%FW)",
          "scale": {"domain": [3.65, 18.12], "nice": false, "zero": false},
          "axis": {"values": [4, 6, 8, 10, 12, 14, 16, 18], "labelExpr": "indexof([4, 6, 8, 12, 16], datum.value) >= 0 ? datum.label : ''"}}
      },
      "layer": [
        {"data": {"name": "points"}, "transform": [{"filter": "datum.cv == 'Koroneiki'"}],
          "mark": {"type": "circle", "size": 260, "opacity": 1, "clip": true},
          "encoding": {"color": {"field": "date", "type": "nominal",
            "scale": {"domain": ["28/07", "08/08", "24/08", "12/09", "29/09", "13/10", "26/10", "10/11", "28/11"],
              "range": ["#BEBEBE", "#8B8BD2", "#6262DE", "#2F2FEF", "#0000FF", "#3E3EBE", "#7B6E8A", "#BE9E3E", "#FFD500"]},
            "legend": {"title": null, "orient": "none", "legendX": 367, "legendY": 18.5}}}},
        {"data": {"name": "path"}, "transform": [{"filter": "datum.cv == 'Koroneiki'"}],
          "mark": {"type": "line", "color": "black", "strokeWidth": 3, "interpolate": "catmull-rom", "clip": true},
          "encoding": {"order": {"field": "step", "type": "quantitative"}}},
        {"data": {"name": "arrows"}, "transform": [{"filter": "datum.cv == 'Koroneiki'"}],
          "mark": {"type": "point", "shape": "M-1,-0.55L0,0L-1,0.55", "filled": false, "color": "black", "strokeWidth": 3, "size": 2000, "opacity": 1, "clip": true},
          "encoding": {"angle": {"field": "heading", "type": "quantitative", "scale": null}}}
      ]
    },
    {
      "title": "Leccino",
      "width": 356,
      "height": 359,
      "encoding": {
        "x": {"field": "blue", "type": "quantitative", "title": "Blue",
          "scale": {"domain": [44.71, 75.14], "nice": false, "zero": false},
          "axis": {"values": [45, 50, 55, 60, 65, 70, 75], "labelExpr": "indexof([45, 55, 65, 75], datum.value) >= 0 ? datum.label : ''"}},
        "y": {"field": "oil", "type": "quantitative", "title": "OIL (%FW)",
          "scale": {"domain": [3.98, 18.65], "nice": false, "zero": false},
          "axis": {"values": [4, 6, 8, 10, 12, 14, 16, 18], "labelExpr": "indexof([4, 6, 8, 12, 16], datum.value) >= 0 ? datum.label : ''"}}
      },
      "layer": [
        {"data": {"name": "points"}, "transform": [{"filter": "datum.cv == 'Leccino'"}],
          "mark": {"type": "circle", "size": 260, "opacity": 1, "clip": true},
          "encoding": {"color": {"field": "date", "type": "nominal",
            "scale": {"domain": ["28/07", "08/08", "24/08", "12/09", "29/09", "13/10", "26/10", "10/11", "28/11"],
              "range": ["#BEBEBE", "#8B8BD2", "#6262DE", "#2F2FEF", "#0000FF", "#3E3EBE", "#7B6E8A", "#BE9E3E", "#FFD500"]},
            "legend": {"title": null, "orient": "none", "legendX": 367, "legendY": 18.5}}}},
        {"data": {"name": "path"}, "transform": [{"filter": "datum.cv == 'Leccino'"}],
          "mark": {"type": "line", "color": "black", "strokeWidth": 3, "interpolate": "catmull-rom", "clip": true},
          "encoding": {"order": {"field": "step", "type": "quantitative"}}},
        {"data": {"name": "arrows"}, "transform": [{"filter": "datum.cv == 'Leccino'"}],
          "mark": {"type": "point", "shape": "M-1,-0.55L0,0L-1,0.55", "filled": false, "color": "black", "strokeWidth": 3, "size": 2000, "opacity": 1, "clip": true},
          "encoding": {"angle": {"field": "heading", "type": "quantitative", "scale": null}}}
      ]
    },
    {
      "title": "Maiatica",
      "width": 356,
      "height": 359,
      "encoding": {
        "x": {"field": "blue", "type": "quantitative", "title": "Blue",
          "scale": {"domain": [41.32, 72.23], "nice": false, "zero": false},
          "axis": {"values": [45, 50, 55, 60, 65, 70], "labelExpr": "indexof([45, 55, 65], datum.value) >= 0 ? datum.label : ''"}},
        "y": {"field": "oil", "type": "quantitative", "title": "OIL (%FW)",
          "scale": {"domain": [4.45, 22.56], "nice": false, "zero": false},
          "axis": {"values": [5, 10, 15, 20]}}
      },
      "layer": [
        {"data": {"name": "points"}, "transform": [{"filter": "datum.cv == 'Maiatica'"}],
          "mark": {"type": "circle", "size": 260, "opacity": 1, "clip": true},
          "encoding": {"color": {"field": "date", "type": "nominal",
            "scale": {"domain": ["08/08", "24/08", "12/09", "29/09", "13/10", "26/10", "10/11"],
              "range": ["#8B8BD2", "#6262DE", "#2F2FEF", "#0000FF", "#3E3EBE", "#7B6E8A", "#BE9E3E"]},
            "legend": {"title": null, "orient": "none", "legendX": 367, "legendY": 18.5}}}},
        {"data": {"name": "path"}, "transform": [{"filter": "datum.cv == 'Maiatica'"}],
          "mark": {"type": "line", "color": "black", "strokeWidth": 3, "interpolate": "catmull-rom", "clip": true},
          "encoding": {"order": {"field": "step", "type": "quantitative"}}},
        {"data": {"name": "arrows"}, "transform": [{"filter": "datum.cv == 'Maiatica'"}],
          "mark": {"type": "point", "shape": "M-1,-0.55L0,0L-1,0.55", "filled": false, "color": "black", "strokeWidth": 3, "size": 2000, "opacity": 1, "clip": true},
          "encoding": {"angle": {"field": "heading", "type": "quantitative", "scale": null}}}
      ]
    }
  ],
  "config": {
    "font": "Liberation Sans",
    "view": {"stroke": "black", "strokeWidth": 2.5},
    "axis": {"domain": false, "grid": false, "tickColor": "black", "tickWidth": 2.5, "tickSize": 18,
      "labelFontSize": 28, "labelColor": "black", "labelOverlap": false, "labelFlush": false,
      "titleFontSize": 31, "titleFontWeight": "normal", "titleColor": "black"},
    "axisY": {"labelAngle": -90, "labelAlign": "center", "labelBaseline": "alphabetic", "labelPadding": 8, "titlePadding": 9},
    "axisX": {"labelPadding": 19, "titlePadding": 2},
    "title": {"fontSize": 38, "fontWeight": "bold", "color": "black", "offset": 15, "anchor": "middle", "frame": "group"},
    "legend": {"symbolType": "circle", "symbolSize": 133, "symbolStrokeWidth": 0, "symbolOpacity": 1,
      "labelFontSize": 30, "labelColor": "black", "labelOffset": 14, "rowPadding": -4, "padding": 0}
  }
}
